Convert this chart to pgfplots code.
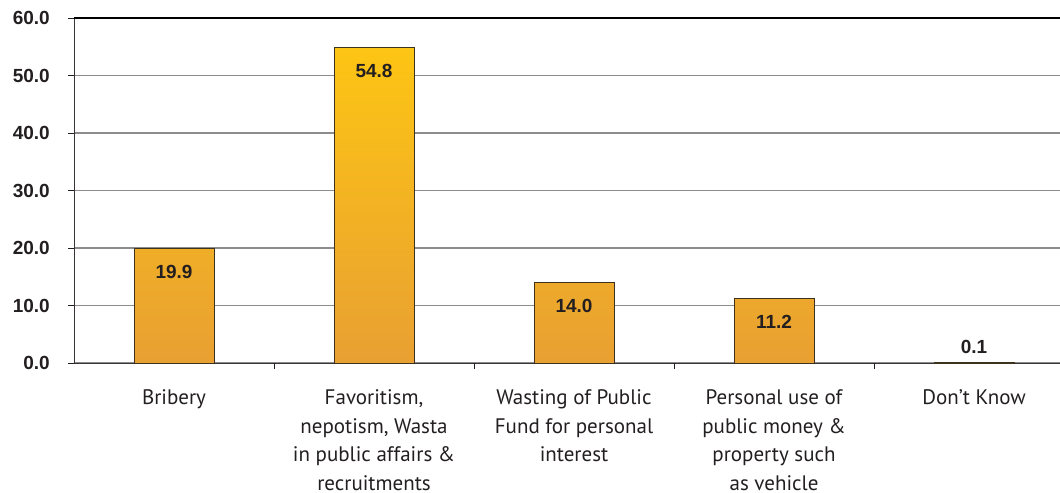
\documentclass[border=0pt]{standalone}
\usepackage{pgfplots}
\pgfplotsset{compat=1.18}
\usepackage{fontspec}
\setmainfont{PT Sans}
\newfontfamily\numfont{Liberation Sans}
\definecolor{topY}{RGB}{253,197,20}
\definecolor{botO}{RGB}{232,160,50}
\definecolor{barline}{RGB}{60,50,30}
\definecolor{txt}{RGB}{35,31,32}
\definecolor{gridc}{RGB}{140,140,140}
\begin{document}
\begin{tikzpicture}
\useasboundingbox (0,0) rectangle (1060bp,493bp);
\begin{axis}[
  at={(74bp,130bp)}, anchor=south west,
  scale only axis, width=986bp, height=345bp,
  xmin=-0.5, xmax=4.43, ymin=0, ymax=60,
  axis x line=bottom, axis y line=left,
  axis line style={draw=txt!90, line width=1bp, -},
  ytick={0,10,...,60},
  ymajorgrids, major grid style={draw=gridc, line width=1.1bp},
  /pgf/number format/fixed, /pgf/number format/fixed zerofill, /pgf/number format/precision=1, /pgf/number format/assume math mode=true,
  yticklabel style={font=\numfont\bfseries\fontsize{19bp}{22bp}\selectfont, text=txt, inner sep=0pt, xshift=-18bp},
  ytick style={draw=txt, line width=1bp},
  tick align=outside, major tick length=6bp,
  xtick={0,1,2,3,4},
  x tick style={draw=none},
  xticklabels={Bribery,
    {Favoritism,\\nepotism, Wasta\\in public affairs \&\\recruitments},
    {Wasting of Public\\Fund for personal\\interest},
    {Personal use of\\public money \&\\property such\\as vehicle},
    {Don’t Know}},
  xticklabel style={font=\fontsize{21bp}{28.5bp}\selectfont, text=txt, align=center, anchor=north, inner sep=0pt, yshift=-20.5bp},
  extra x ticks={0.5,1.5,2.5,3.5},
  extra x tick labels={},
  extra x tick style={x tick style={draw=txt, line width=1bp}, major tick length=6bp, tick align=outside},
  clip=false,
]
\addplot[ybar, bar shift=0pt, bar width=80bp, draw=barline, line width=0.9bp, top color=topY, bottom color=botO]
  coordinates {(0,19.9) (1,54.8) (2,14.0) (3,11.2) (4,0.1)};
\addplot[draw=none, mark=none, nodes near coords, point meta=explicit symbolic,
  nodes near coords style={anchor=center, yshift=-23bp, font=\numfont\bfseries\fontsize{19bp}{22bp}\selectfont, text=txt}]
  coordinates {(0,19.9)[19.9] (1,54.8)[54.8] (2,14.0)[14.0] (3,11.2)[11.2]};
\addplot[draw=none, mark=none, nodes near coords, point meta=explicit symbolic,
  nodes near coords style={anchor=center, yshift=15bp, font=\numfont\bfseries\fontsize{19bp}{22bp}\selectfont, text=txt}]
  coordinates {(4,0.1)[0.1]};
\draw[draw=black, line width=1.2bp] (axis cs:-0.5,60) -- (axis cs:4.43,60);
\end{axis}
\end{tikzpicture}
\end{document}
